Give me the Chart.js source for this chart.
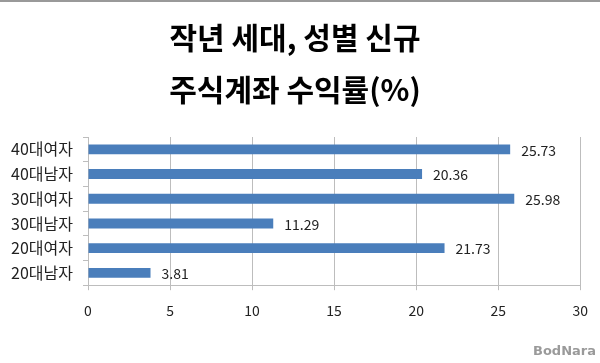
<!DOCTYPE html>
<html>
<head>
<meta charset="utf-8">
<script src="https://cdn.jsdelivr.net/npm/chart.js@4"></script>
<style>
  html, body { margin: 0; padding: 0; background: #fff; }
  #wrap { width: 600px; height: 363px; position: relative; }
</style>
</head>
<body>
<div id="wrap"><canvas id="chart"></canvas></div>
<script>
// categories top to bottom, as in the picture
const GROUPS = ['40대여자', '40대남자', '30대여자', '30대남자', '20대여자', '20대남자'];
const RETURNS = [25.73, 20.36, 25.98, 11.29, 21.73, 3.81]; // 수익률 (%)
const TITLE_LINES = ['작년 세대, 성별 신규', '주식계좌 수익률(%)'];
const X_MIN = 0, X_MAX = 30, X_STEP = 5;

const FONT = '"Noto Sans CJK KR", "Noto Sans", sans-serif';

// title, value labels at the bar ends, watermark and the frame line
const decorations = {
  id: 'decorations',
  afterDatasetsDraw(chart) {
    const ctx = chart.ctx;
    const meta = chart.getDatasetMeta(0);
    ctx.save();
    ctx.font = '14px ' + FONT;
    ctx.fillStyle = '#222';
    ctx.textAlign = 'left';
    ctx.textBaseline = 'middle';
    meta.data.forEach((bar, i) => {
      ctx.fillText(RETURNS[i].toFixed(2), bar.x + 11, bar.y + 1);
    });
    ctx.restore();
  },
  afterDraw(chart) {
    const ctx = chart.ctx;
    ctx.save();
    ctx.strokeStyle = '#999';
    ctx.lineWidth = 2;
    ctx.beginPath();
    ctx.moveTo(0, 1);
    ctx.lineTo(chart.width, 1);
    ctx.stroke();

    ctx.fillStyle = '#000';
    ctx.font = 'bold 30px ' + FONT;
    ctx.textAlign = 'center';
    ctx.textBaseline = 'middle';
    ctx.fillText(TITLE_LINES[0], 295, 38);
    ctx.fillText(TITLE_LINES[1], 295, 90);

    ctx.font = 'bold 13px "DejaVu Sans", sans-serif';
    ctx.fillStyle = '#9a9a9a';
    ctx.textAlign = 'right';
    ctx.fillText('BodNara', 596, 352);
    ctx.restore();
  }
};

new Chart(document.getElementById('chart'), {
  type: 'bar',
  data: {
    labels: GROUPS,
    datasets: [{
      data: RETURNS,
      backgroundColor: '#4a7ebb',
      barPercentage: 0.4,
      categoryPercentage: 1.0
    }]
  },
  options: {
    indexAxis: 'y',
    responsive: true,
    maintainAspectRatio: false,
    animation: false,
    layout: { padding: { top: 137, left: 0, right: 18, bottom: 32 } },
    plugins: {
      legend: { display: false },
      tooltip: { enabled: false },
      title: { display: false }
    },
    scales: {
      x: {
        min: X_MIN,
        max: X_MAX,
        ticks: { stepSize: X_STEP, color: '#222', font: { family: FONT, size: 14 }, padding: 12 },
        grid: { color: '#bdbdbd', tickLength: 5, tickColor: '#bdbdbd' },
        border: { color: '#bdbdbd' }
      },
      y: {
        afterFit(scale) { scale.width = 88; },
        ticks: { color: '#222', font: { family: FONT, size: 16 }, padding: 10 },
        grid: { drawOnChartArea: false, tickLength: 5, color: '#bdbdbd' },
        border: { color: '#bdbdbd' }
      }
    }
  },
  plugins: [decorations]
});
</script>
</body>
</html>
